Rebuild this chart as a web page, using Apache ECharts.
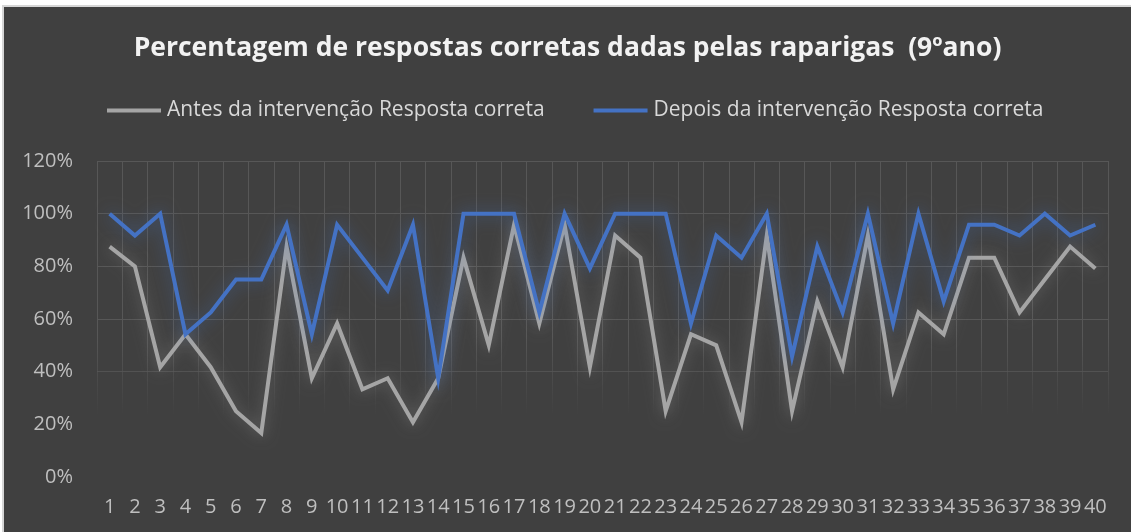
<!DOCTYPE html>
<html>
<head>
<meta charset="utf-8">
<script src="https://cdn.jsdelivr.net/npm/echarts@6/dist/echarts.min.js"></script>
<style>
  html, body { margin: 0; padding: 0; background: #ffffff; width: 1131px; height: 532px; overflow: hidden; }
  #frame { position: absolute; left: 2px; top: 5px; width: 1129px; height: 527px; background: #d6d6d6; }
  #chart { position: absolute; left: 2px; top: 2px; width: 1127px; height: 525px; background: #404040; }
</style>
</head>
<body>
<div id="frame"><div id="chart"></div></div>
<script>
const titleText = 'Percentagem de respostas corretas dadas pelas raparigas  (9ºano)';
const seriesNames = ['Antes da intervenção Resposta correta', 'Depois da intervenção Resposta correta'];
const categories = Array.from({length: 40}, (_, i) => String(i + 1));
const antes = [87.5, 80, 41.7, 54.2, 41.7, 25, 16.7, 87.5, 37.5, 58.3,
               33.3, 37.5, 20.8, 37.5, 83.3, 50, 95.8, 58.3, 95.8, 41.7,
               91.7, 83.3, 25, 54.2, 50, 20.8, 91.7, 25, 66.7, 41.7,
               91.7, 33.3, 62.5, 54.2, 83.3, 83.3, 62.5, 75, 87.5, 79.2];
const depois = [100, 91.7, 100, 54.2, 62.5, 75, 75, 95.8, 54.2, 95.8,
                83.3, 70.8, 95.8, 37.5, 100, 100, 100, 62.5, 100, 79.2,
                100, 100, 100, 58.3, 91.7, 83.3, 100, 45.8, 87.5, 62.5,
                100, 58.3, 100, 66.7, 95.8, 95.8, 91.7, 100, 91.7, 95.8];
const yTicks = {min: 0, max: 120, interval: 20};

const chart = echarts.init(document.getElementById('chart'), null, {renderer: 'canvas'});
const font = '"Open Sans", "Noto Sans", sans-serif';
const gridLine = '#575757';

chart.setOption({
  backgroundColor: '#404040',
  animation: false,
  title: {
    text: titleText,
    left: 'center',
    top: 23,
    textStyle: { fontFamily: font, fontSize: 26.5, fontWeight: 'bold', color: '#f2f2f2' }
  },
  legend: {
    data: seriesNames,
    left: 98,
    top: 88,
    icon: 'rect',
    itemWidth: 54,
    itemHeight: 4,
    itemGap: 49,
    textStyle: { fontFamily: font, fontSize: 21, color: '#d9d9d9', padding: [0, 0, 0, 1] }
  },
  grid: { left: 93, right: 23, top: 154, bottom: 55, containLabel: false },
  xAxis: {
    type: 'category',
    data: categories,
    boundaryGap: true,
    axisLine: { show: false },
    axisTick: { show: false },
    axisLabel: { interval: 0, fontFamily: font, fontSize: 20, color: '#bfbfbf', margin: 20 },
    splitLine: {
      show: true,
      interval: 0,
      lineStyle: {
        width: 1,
        color: new echarts.graphic.LinearGradient(0, 0, 0, 1, [
          { offset: 0, color: gridLine },
          { offset: 0.55, color: gridLine },
          { offset: 0.8, color: 'rgba(87,87,87,0)' },
          { offset: 1, color: 'rgba(87,87,87,0)' }
        ])
      }
    }
  },
  yAxis: {
    type: 'value',
    min: yTicks.min,
    max: yTicks.max,
    interval: yTicks.interval,
    axisLine: { show: false },
    axisTick: { show: false },
    axisLabel: { formatter: '{value}%', fontFamily: font, fontSize: 20, color: '#bfbfbf', margin: 24 },
    splitLine: {
      show: true,
      lineStyle: { width: 1, color: ['rgba(0,0,0,0)', 'rgba(0,0,0,0)', '#525252', gridLine, gridLine, gridLine, gridLine] }
    }
  },
  series: [
    {
      name: seriesNames[0],
      type: 'line',
      data: antes,
      symbol: 'none',
      color: '#a5a5a5',
      lineStyle: { width: 4, color: '#a5a5a5', join: 'miter', shadowColor: 'rgba(190,190,190,0.35)', shadowBlur: 14 },
      z: 2
    },
    {
      name: seriesNames[1],
      type: 'line',
      data: depois,
      symbol: 'none',
      color: '#4472c4',
      lineStyle: { width: 4, color: '#4472c4', join: 'miter', shadowColor: 'rgba(68,114,196,0.55)', shadowBlur: 16 },
      z: 3
    }
  ]
});
</script>
</body>
</html>
